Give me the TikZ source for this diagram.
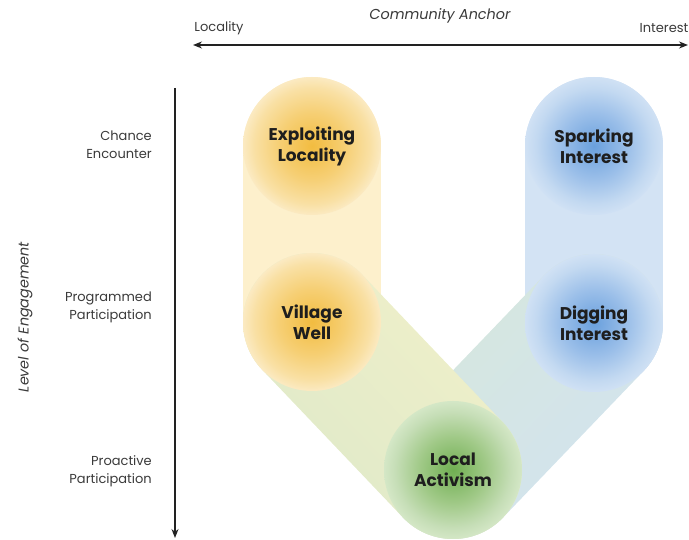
\documentclass[tikz,border=0pt]{standalone}
\usepackage{fontspec}
\setmainfont{Poppins}
\usetikzlibrary{calc,arrows.meta}
\definecolor{yband}{HTML}{FDF0CC}
\definecolor{bband}{HTML}{D3E3F4}
\definecolor{ydiagA}{HTML}{F1F0C9}
\definecolor{ydiagB}{HTML}{DEE9C9}
\definecolor{bdiagA}{HTML}{D2E2F0}
\definecolor{bdiagB}{HTML}{D6E8DC}
\definecolor{yA}{HTML}{F2BC40}
\definecolor{yB}{HTML}{F6CF74}
\definecolor{yC}{HTML}{F9E0A4}
\definecolor{yD}{HTML}{FBEAC2}
\definecolor{bA}{HTML}{6AA0DD}
\definecolor{bB}{HTML}{9BBFE9}
\definecolor{bC}{HTML}{C3D9F1}
\definecolor{bD}{HTML}{D0E1F4}
\definecolor{gA}{HTML}{70AF52}
\definecolor{gB}{HTML}{A0C987}
\definecolor{gC}{HTML}{C6DEB7}
\definecolor{gD}{HTML}{D4E7C6}
\definecolor{ink}{HTML}{1E1E1E}
\definecolor{axisc}{HTML}{222222}
\definecolor{lbl}{HTML}{3A3A3A}
\pgfdeclareradialshading{yball}{\pgfpointorigin}{color(0bp)=(yA); color(12bp)=(yB); color(21bp)=(yC); color(25bp)=(yD); color(50bp)=(yD)}
\pgfdeclareradialshading{bball}{\pgfpointorigin}{color(0bp)=(bA); color(12bp)=(bB); color(21bp)=(bC); color(25bp)=(bD); color(50bp)=(bD)}
\pgfdeclareradialshading{gball}{\pgfpointorigin}{color(0bp)=(gA); color(12bp)=(gB); color(21bp)=(gC); color(25bp)=(gD); color(50bp)=(gD)}
\tikzset{
  ball/.style={circle, minimum size=138pt, inner sep=0pt, align=center, text=ink,
    font=\fontsize{17}{21}\selectfont\bfseries},
  axislbl/.style={text=lbl, font=\fontsize{13}{18}\selectfont, inner sep=0pt},
  levellbl/.style={axislbl, align=right, anchor=east},
  axisline/.style={draw=axisc, line width=1.4pt, -{Stealth[length=9pt,width=7pt]}},
  band/.style={line width=138pt, line cap=round},
}
\begin{document}
\begin{tikzpicture}[x=1pt,y=1pt]
\useasboundingbox (0,0) rectangle (689,-540);
% positions
\coordinate (pEL) at (312,-146);
\coordinate (pVW) at (312,-322);
\coordinate (pLA) at (453,-470);
\coordinate (pSI) at (594,-146);
\coordinate (pDI) at (594,-323);
% bands
\draw[band, bband] (pSI) -- (pDI);
\shade[left color=bdiagA, right color=bdiagB, shading angle=-133.8]
  ($(pDI)+(-43.8:69)$) -- ($(pLA)+(-43.8:69)$) arc[start angle=-43.8, delta angle=-180, radius=69]
  -- ($(pDI)+(136.2:69)$) arc[start angle=136.2, delta angle=-180, radius=69] -- cycle;
\draw[band, yband] (pEL) -- (pVW);
\shade[left color=ydiagA, right color=ydiagB, shading angle=-46.4]
  ($(pVW)+(43.6:69)$) -- ($(pLA)+(43.6:69)$) arc[start angle=43.6, delta angle=-180, radius=69]
  -- ($(pVW)+(223.6:69)$) arc[start angle=223.6, delta angle=-180, radius=69] -- cycle;
% circles
\node[ball, shading=yball] (EL) at (pEL) {Exploiting\\Locality};
\node[ball, shading=yball] (VW) at (pVW) {Village\\Well};
\node[ball, shading=bball] (SI) at (pSI) {Sparking\\Interest};
\node[ball, shading=bball] (DI) at (pDI) {Digging\\Interest};
\node[ball, shading=gball] (LA) at (pLA) {Local\\Activism};
% top axis
\coordinate (hL) at (193,-45);
\coordinate (hR) at (688,-45);
\draw[axisline, {Stealth[length=9pt,width=7pt]}-{Stealth[length=9pt,width=7pt]}] (hL) -- (hR);
\node[axislbl] (loc) at (219,-28) {Locality};
\node[axislbl] (int) at (664,-28) {Interest};
\node[axislbl, font=\fontsize{14.4}{16}\selectfont\itshape] (anchor) at (440,-16) {Community Anchor};
% vertical axis
\coordinate (vT) at (175,-88);
\coordinate (vB) at (175,-538);
\draw[axisline] (vT) -- (vB);
\node[levellbl] (l1) at (152,-145) {Chance\\Encounter};
\node[levellbl] (l2) at (152,-307) {Programmed\\Participation};
\node[levellbl] (l3) at (152,-471) {Proactive\\Participation};
\node[axislbl, rotate=90, font=\fontsize{14.3}{16}\selectfont\itshape] (lev) at (25,-317) {Level of Engagement};
\end{tikzpicture}
\end{document}
